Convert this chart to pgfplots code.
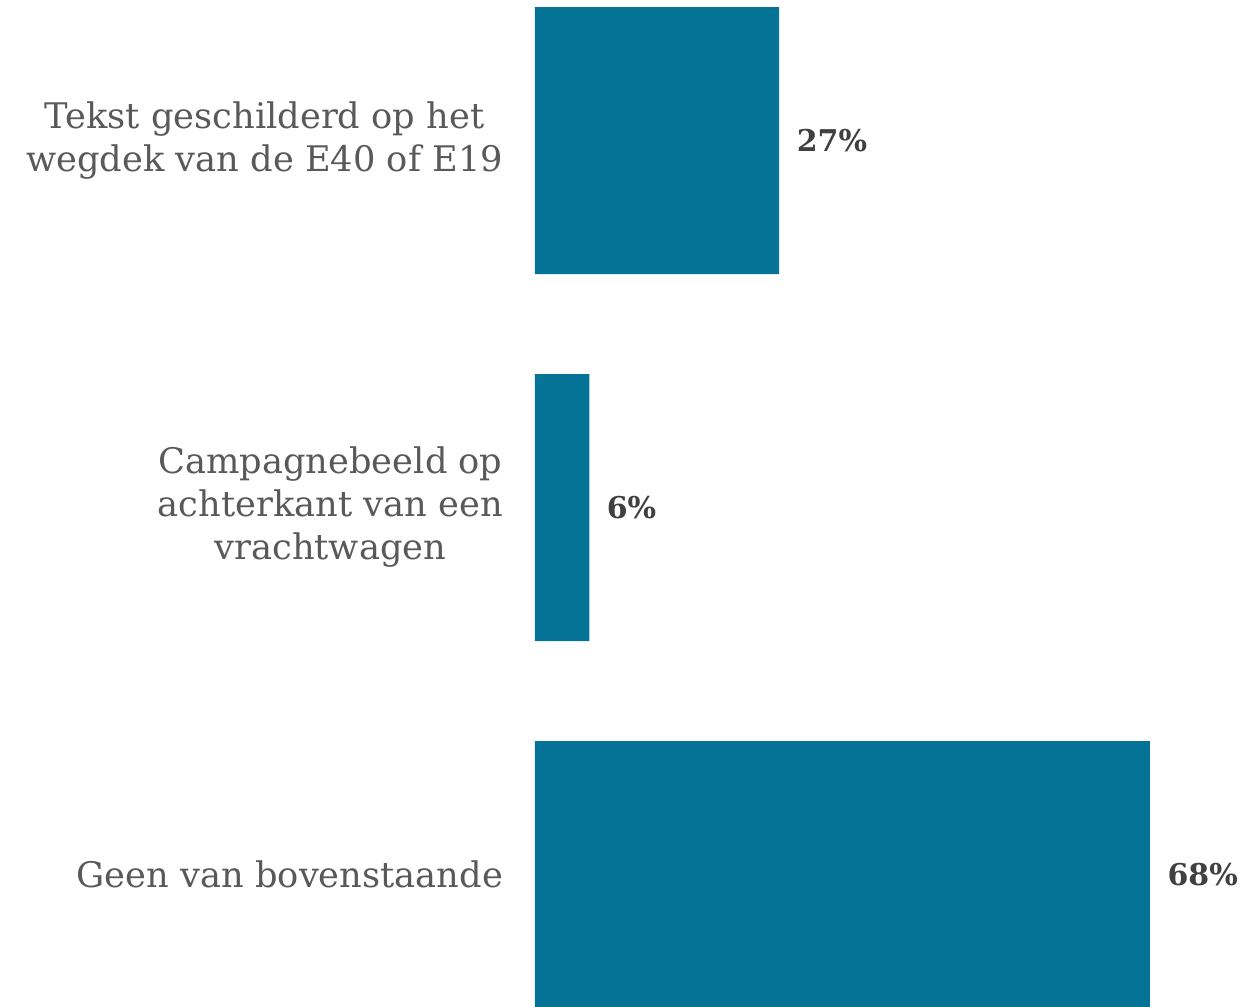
\documentclass[border=0pt]{standalone}
\usepackage{pgfplots}
\pgfplotsset{compat=1.18}
\usepackage{fontspec}
\setmainfont{DejaVu Serif}
\definecolor{barc}{HTML}{047396}
\definecolor{labc}{HTML}{595959}
\definecolor{valc}{HTML}{404040}

\begin{document}
\begin{tikzpicture}
\begin{axis}[
  name=ax,
  xbar, bar width=106.8pt,
  scale only axis, width=246pt, height=402.8pt,
  xmin=0, xmax=68, ymin=-0.361, ymax=2.383,
  hide x axis,
  axis y line*=left, y axis line style={draw=none},
  ytick={0,1,2}, ytick style={draw=none},
  yticklabels={Geen van bovenstaande, {Campagnebeeld op\\achterkant van een\\vrachtwagen}, {Tekst geschilderd op het\\wegdek van de E40 of E19}},
  yticklabel style={align=center, font=\fontsize{14.1}{17.2}\selectfont, text=labc, xshift=-5pt},
  /pgf/number format/assume math mode=true,
  nodes near coords={\pgfmathprintnumber{\pgfplotspointmeta}\%},
  every node near coord/.append style={font=\fontsize{12}{13}\selectfont\bfseries, text=valc, xshift=3.5pt},
  clip=false,
]
\addplot[fill=barc, draw=none] coordinates {(68,0) (6,1) (27,2)};
\end{axis}
\pgfresetboundingbox
\useasboundingbox ([xshift=-214pt]ax.south west) rectangle ([xshift=286pt]ax.north west);
\end{tikzpicture}
\end{document}
